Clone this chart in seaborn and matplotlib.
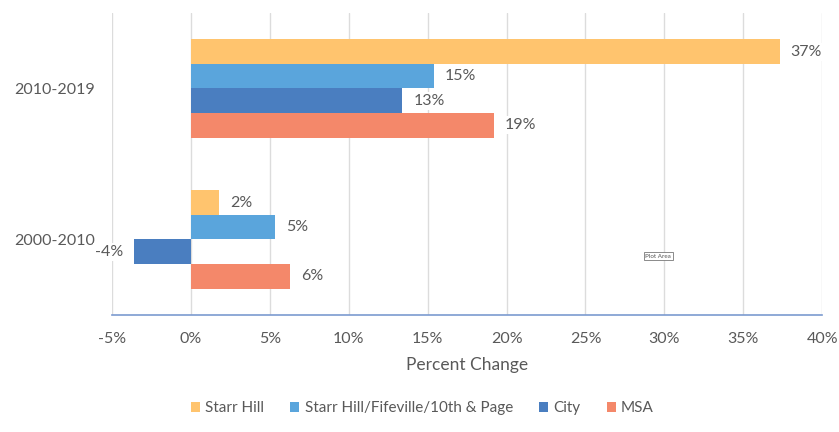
import matplotlib
matplotlib.use("Agg")
import matplotlib.pyplot as plt
import seaborn as sns
import pandas as pd
from matplotlib.ticker import FuncFormatter, MultipleLocator

periods = ["2010-2019", "2000-2010"]
series = ["Starr Hill", "Starr Hill/Fifeville/10th & Page", "City", "MSA"]
starr_hill = [37.3, 1.8]
starr_fife = [15.4, 5.3]
city = [13.4, -3.6]
msa = [19.2, 6.3]
colors = ["#FFC46E", "#5AA5DC", "#4A7EC0", "#F4886A"]

rows = []
for name, vals in zip(series, [starr_hill, starr_fife, city, msa]):
    for p, v in zip(periods, vals):
        rows.append({"period": p, "series": name, "value": v})
df = pd.DataFrame(rows)

sns.set_theme(style="white")
plt.rcParams["font.family"] = ["Lato", "DejaVu Sans"]
txt = "#595959"

fig = plt.figure(figsize=(8.39, 4.32), dpi=100)
ax = fig.add_axes([0.1335, 0.271, 0.8465, 0.699])

sns.barplot(data=df, y="period", x="value", hue="series", order=periods,
            hue_order=series, palette=colors, orient="h", width=0.65,
            saturation=1, ax=ax, legend=True, linewidth=0)

ax.set_xlim(-5, 40)
ax.set_ylim(1.5, -0.5)
ax.xaxis.set_major_locator(MultipleLocator(5))
ax.xaxis.set_major_formatter(FuncFormatter(lambda v, p: f"{v:.0f}%"))
ax.grid(axis="x", color="#DCDCDC", linewidth=1)
ax.set_axisbelow(True)
for s in ["top", "right", "left"]:
    ax.spines[s].set_visible(False)
ax.spines["bottom"].set_color("#7C9BD0")
ax.spines["bottom"].set_linewidth(1.2)
ax.tick_params(axis="x", colors="#7C9BD0", length=4, width=1, direction="out",
               labelcolor=txt, labelsize=11.5, pad=8)
ax.tick_params(axis="y", length=0, labelcolor=txt, labelsize=11.5, pad=12)
ax.set_ylabel("")
ax.set_xlabel("Percent Change", color=txt, fontsize=12.5, labelpad=8)

for cont in ax.containers:
    labels = [f"{round(b.get_width())}%" for b in cont]
    ax.bar_label(cont, labels=labels, padding=8, color=txt, fontsize=11.5,
                 bbox=dict(facecolor="white", edgecolor="none", pad=1.5))

handles, labs = ax.get_legend_handles_labels()
ax.legend(handles, labs, loc="upper center", bbox_to_anchor=(0.437, -0.24),
          ncol=4, frameon=False, fontsize=11, labelcolor=txt,
          handlelength=0.6, handleheight=0.6, handletextpad=0.35,
          columnspacing=1.7)

ax.text(29.6, 1.11, "Plot Area", fontsize=4.5, color="#555555", ha="center",
        va="center", bbox=dict(facecolor="white", edgecolor="#777777",
                               linewidth=0.6, pad=1.2))

fig.savefig("out.png", dpi=100)
